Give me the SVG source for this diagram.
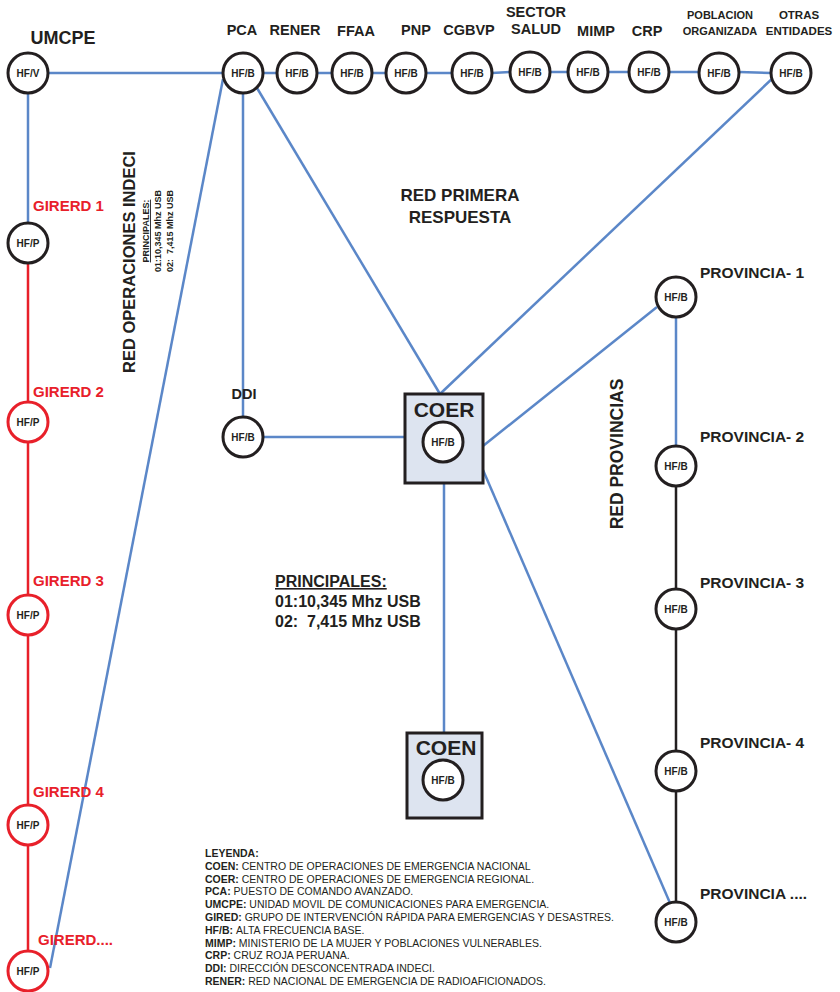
<svg xmlns="http://www.w3.org/2000/svg" width="840" height="992" viewBox="0 0 840 992">
<style>
text{font-family:"Liberation Sans",Arial,sans-serif;font-weight:bold;fill:#231f20}
.lbl{font-size:14.5px;text-anchor:middle}
.small{font-size:11px;text-anchor:middle}
.hf{font-size:10px;text-anchor:middle}
.red{fill:#e8202a;font-size:15px}
.prov{font-size:15.5px}
.n{fill:#fff;stroke:#231f20;stroke-width:3}
.nr{fill:#fff;stroke:#e8202a;stroke-width:3}
.box{fill:#dde4f0;stroke:#231f20;stroke-width:3}
.bl{stroke:#5b87c8;stroke-width:2.5;fill:none}
.rl{stroke:#e8202a;stroke-width:2.5;fill:none}
.kl{stroke:#231f20;stroke-width:2.5;fill:none}
.leg{font-size:10.5px}
.leg tspan.v{font-weight:normal}
.rot{font-size:9px;text-anchor:middle}
</style>
<rect width="840" height="992" fill="#fff"/>
<g id="connectors">
<line class="bl" x1="48" y1="73" x2="223" y2="73"/>
<line class="bl" x1="263" y1="73" x2="277" y2="73"/>
<line class="bl" x1="317" y1="73" x2="332" y2="73"/>
<line class="bl" x1="372" y1="73" x2="386" y2="73"/>
<line class="bl" x1="426" y1="73" x2="452" y2="73"/>
<line class="bl" x1="492" y1="73" x2="510" y2="72"/>
<line class="bl" x1="550" y1="72" x2="568" y2="72"/>
<line class="bl" x1="608" y1="72" x2="629" y2="72"/>
<line class="bl" x1="669" y1="72" x2="699" y2="72"/>
<line class="bl" x1="739" y1="72" x2="771" y2="73"/>
<line class="bl" x1="28" y1="94" x2="28" y2="222"/>
<line class="rl" x1="28" y1="264" x2="28" y2="950"/>
<line class="bl" x1="223" y1="79" x2="50" y2="968"/>
<line class="bl" x1="243" y1="94" x2="243" y2="416"/>
<line class="bl" x1="257" y1="88" x2="440" y2="394"/>
<line class="bl" x1="775" y1="76" x2="440" y2="394"/>
<line class="bl" x1="264" y1="437" x2="405" y2="437"/>
<line class="bl" x1="483" y1="446" x2="657" y2="307"/>
<line class="bl" x1="483" y1="470" x2="670" y2="903"/>
<line class="bl" x1="444" y1="483" x2="444" y2="733"/>
<line class="bl" x1="676" y1="318" x2="676" y2="445"/>
<line class="kl" x1="676" y1="487" x2="676" y2="901"/>
</g>
<g id="umcpe"><circle class="n" cx="28" cy="73" r="20"/><text class="hf" x="28" y="76.5">HF/V</text><text x="63" y="44" style="font-size:18px;text-anchor:middle">UMCPE</text></g>
<g id="pca"><circle class="n" cx="243" cy="73" r="20"/><text class="hf" x="243" y="76.5">HF/B</text><text class="lbl" x="242" y="35">PCA</text></g>
<g id="rener"><circle class="n" cx="297" cy="73" r="20"/><text class="hf" x="297" y="76.5">HF/B</text><text class="lbl" x="295" y="35">RENER</text></g>
<g id="ffaa"><circle class="n" cx="352" cy="73" r="20"/><text class="hf" x="352" y="76.5">HF/B</text><text class="lbl" x="356" y="36">FFAA</text></g>
<g id="pnp"><circle class="n" cx="406" cy="73" r="20"/><text class="hf" x="406" y="76.5">HF/B</text><text class="lbl" x="416" y="35">PNP</text></g>
<g id="cgbvp"><circle class="n" cx="472" cy="73" r="20"/><text class="hf" x="472" y="76.5">HF/B</text><text class="lbl" x="469" y="35">CGBVP</text></g>
<g id="salud"><circle class="n" cx="530" cy="72" r="20"/><text class="hf" x="530" y="75.5">HF/B</text><text class="lbl" x="536" y="17">SECTOR</text><text class="lbl" x="536" y="34">SALUD</text></g>
<g id="mimp"><circle class="n" cx="588" cy="72" r="20"/><text class="hf" x="588" y="75.5">HF/B</text><text class="lbl" x="596" y="36">MIMP</text></g>
<g id="crp"><circle class="n" cx="649" cy="72" r="20"/><text class="hf" x="649" y="75.5">HF/B</text><text class="lbl" x="647" y="36">CRP</text></g>
<g id="poblacion"><circle class="n" cx="719" cy="73" r="20"/><text class="hf" x="719" y="76.5">HF/B</text><text class="small" x="720" y="19">POBLACION</text><text class="small" x="720" y="35">ORGANIZADA</text></g>
<g id="otras"><circle class="n" cx="791" cy="73" r="20"/><text class="hf" x="791" y="76.5">HF/B</text><text class="small" x="799" y="19" style="font-size:11.5px">OTRAS</text><text class="small" x="799" y="35" style="font-size:11.5px">ENTIDADES</text></g>
<g id="girerd1"><circle class="n" cx="28" cy="243" r="20"/><text class="hf" x="28" y="246.5">HF/P</text><text class="red" x="33" y="211">GIRERD 1</text></g>
<g id="girerd2"><circle class="nr" cx="28" cy="422" r="20"/><text class="hf" x="28" y="425.5">HF/P</text><text class="red" x="33" y="397">GIRERD 2</text></g>
<g id="girerd3"><circle class="nr" cx="28" cy="615" r="20"/><text class="hf" x="28" y="618.5">HF/P</text><text class="red" x="33" y="586">GIRERD 3</text></g>
<g id="girerd4"><circle class="nr" cx="28" cy="825" r="20"/><text class="hf" x="28" y="828.5">HF/P</text><text class="red" x="33" y="797">GIRERD 4</text></g>
<g id="girerd5"><circle class="nr" cx="28" cy="971" r="20"/><text class="hf" x="28" y="974.5">HF/P</text><text class="red" x="38" y="945">GIRERD....</text></g>
<g id="ddi"><circle class="n" cx="243" cy="437" r="20"/><text class="hf" x="243" y="440.5">HF/B</text><text class="lbl" x="244" y="399">DDI</text></g>
<g id="coer"><rect class="box" x="405" y="394" width="78" height="89"/><text x="444" y="417" style="font-size:21px;text-anchor:middle">COER</text><circle class="n" cx="443" cy="442" r="20"/><text class="hf" x="443" y="445.5">HF/B</text></g>
<g id="coen"><rect class="box" x="407" y="733" width="75" height="85"/><text x="446" y="755" style="font-size:21px;text-anchor:middle">COEN</text><circle class="n" cx="443" cy="780" r="20"/><text class="hf" x="443" y="783.5">HF/B</text></g>
<g id="prov1"><circle class="n" cx="676" cy="297" r="20"/><text class="hf" x="676" y="300.5">HF/B</text><text class="prov" x="700" y="278">PROVINCIA- 1</text></g>
<g id="prov2"><circle class="n" cx="676" cy="466" r="20"/><text class="hf" x="676" y="469.5">HF/B</text><text class="prov" x="700" y="442">PROVINCIA- 2</text></g>
<g id="prov3"><circle class="n" cx="676" cy="609" r="20"/><text class="hf" x="676" y="612.5">HF/B</text><text class="prov" x="700" y="588">PROVINCIA- 3</text></g>
<g id="prov4"><circle class="n" cx="676" cy="771" r="20"/><text class="hf" x="676" y="774.5">HF/B</text><text class="prov" x="700" y="748">PROVINCIA- 4</text></g>
<g id="prov5"><circle class="n" cx="676" cy="922" r="20"/><text class="hf" x="676" y="925.5">HF/B</text><text class="prov" x="700" y="899">PROVINCIA ....</text></g>
<g id="labels">
<text x="460" y="201" style="font-size:17px;text-anchor:middle">RED PRIMERA</text>
<text x="460" y="223" style="font-size:17px;text-anchor:middle">RESPUESTA</text>
<text transform="translate(135,262) rotate(-90)" style="font-size:16.5px;text-anchor:middle">RED OPERACIONES INDECI</text>
<text class="rot" transform="translate(149,231) rotate(-90)" style="text-decoration:underline">PRINCIPALES:</text>
<text class="rot" transform="translate(161,231) rotate(-90)">01:10,345 Mhz USB</text>
<text class="rot" transform="translate(173,231) rotate(-90)" xml:space="preserve">02:  7,415 Mhz USB</text>
<text transform="translate(623,454) rotate(-90)" style="font-size:17.5px;text-anchor:middle">RED PROVINCIAS</text>
<text x="275" y="587" style="font-size:16px;text-decoration:underline">PRINCIPALES:</text>
<text x="275" y="607" style="font-size:16px">01:10,345 Mhz USB</text>
<text x="275" y="627" style="font-size:16px" xml:space="preserve">02:  7,415 Mhz USB</text>
</g>
<g id="legend">
<text class="leg" x="205" y="857">LEYENDA:</text>
<text class="leg" x="205" y="869.8">COEN: <tspan class="v">CENTRO DE OPERACIONES DE EMERGENCIA NACIONAL</tspan></text>
<text class="leg" x="205" y="882.6">COER: <tspan class="v">CENTRO DE OPERACIONES DE EMERGENCIA REGIONAL.</tspan></text>
<text class="leg" x="205" y="895.4">PCA: <tspan class="v">PUESTO DE COMANDO AVANZADO.</tspan></text>
<text class="leg" x="205" y="908.2">UMCPE: <tspan class="v">UNIDAD MOVIL DE COMUNICACIONES PARA EMERGENCIA.</tspan></text>
<text class="leg" x="205" y="921">GIRED: <tspan class="v">GRUPO DE INTERVENCIÓN RÁPIDA PARA EMERGENCIAS Y DESASTRES.</tspan></text>
<text class="leg" x="205" y="933.8">HF/B: <tspan class="v">ALTA FRECUENCIA BASE.</tspan></text>
<text class="leg" x="205" y="946.6">MIMP: <tspan class="v">MINISTERIO DE LA MUJER Y POBLACIONES VULNERABLES.</tspan></text>
<text class="leg" x="205" y="959.4">CRP: <tspan class="v">CRUZ ROJA PERUANA.</tspan></text>
<text class="leg" x="205" y="972.2">DDI: <tspan class="v">DIRECCIÓN DESCONCENTRADA INDECI.</tspan></text>
<text class="leg" x="205" y="985">RENER: <tspan class="v">RED NACIONAL DE EMERGENCIA DE RADIOAFICIONADOS.</tspan></text>
</g>
</svg>
